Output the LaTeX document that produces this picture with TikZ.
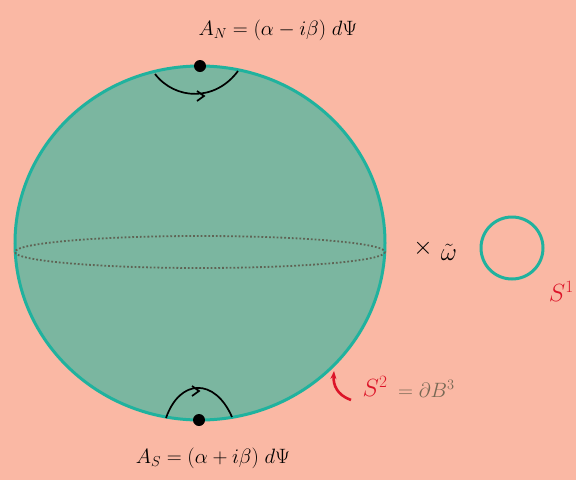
\documentclass[tikz,border=0pt]{standalone}
\usepackage{amsmath}
\usetikzlibrary{arrows.meta}
\definecolor{bgpink}{RGB}{250,184,164}
\definecolor{spherefill}{RGB}{123,182,160}
\definecolor{rimteal}{RGB}{32,178,158}
\definecolor{eqgray}{RGB}{95,100,85}
\definecolor{redlab}{RGB}{220,20,40}
\definecolor{brownlab}{RGB}{120,105,85}
\tikzset{
  rim/.style={draw=rimteal, line width=3pt},
  pathline/.style={draw=black, line width=1.7pt},
  dotpt/.style={circle, fill=black, inner sep=0pt, minimum size=12pt},
  lab/.style={font=\fontsize{22}{26}\selectfont, text=black, inner sep=1pt},
  biglab/.style={font=\fontsize{26}{30}\selectfont, inner sep=1pt},
}
\begin{document}
\begin{tikzpicture}[x=1pt,y=-1pt]
\fill[bgpink] (0,0) rectangle (576,480);
\useasboundingbox (0,0) rectangle (576,480);
% sphere
\path[rim, fill=spherefill] (200,243) ellipse [x radius=185, y radius=177];
% equator
\draw[eqgray, line width=1.8pt, dotted] (200,252) ellipse [x radius=185, y radius=16];
% poles
\node[dotpt] (N) at (200,66) {};
\node[dotpt] (S) at (199,420) {};
% loops
\coordinate (na) at (155,74);
\coordinate (nb) at (238,71);
\draw[pathline] (na) .. controls (175,100) and (215,102) .. (nb);
\draw[pathline] (197,91) -- (204,96) -- (197,101);
\coordinate (sa) at (166,418);
\coordinate (sb) at (232,417);
\draw[pathline] (sa) .. controls (180,378) and (215,378) .. (sb);
\draw[pathline] (192,386) -- (199,391) -- (192,396);
% labels
\node[lab] (AN) at (278,30) {$A_N = (\alpha - i\beta)\; d\Psi$};
\node[lab] (AS) at (213,458) {$A_S = (\alpha + i\beta)\; d\Psi$};
\node[biglab] (X) at (423,248) {$\times$};
\node[biglab] (W) at (449,252) {$\tilde{\omega}$};
% small circle
\draw[rim] (512,248) circle [radius=31];
\node[biglab, text=redlab, anchor=east] (S1) at (575,291) {$S^1$};
% S^2 label
\node[biglab, text=redlab] (S2) at (375,386) {$S^2$};
\node[lab, text=brownlab, anchor=west] (dB) at (397,389) {$=\partial B^3$};
\coordinate (tip) at (334,371);
\draw[redlab, line width=2.6pt, -{Stealth[length=8pt]}] (351,400) .. controls (337,395) and (333,385) .. (tip);
\end{tikzpicture}
\end{document}
